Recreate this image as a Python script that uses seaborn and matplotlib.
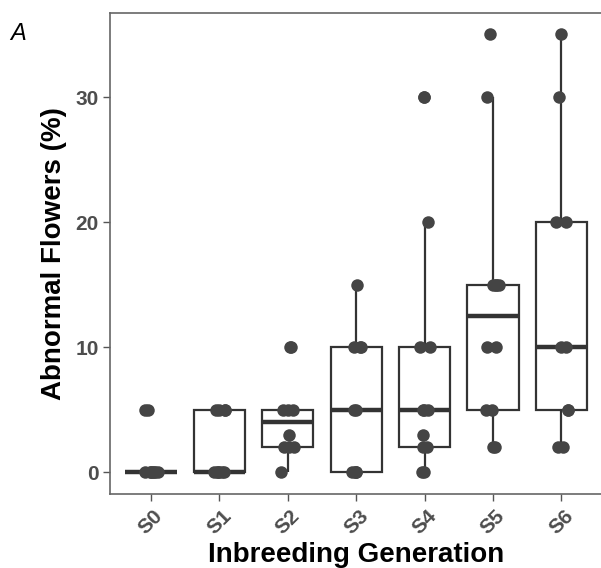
import numpy as np
import pandas as pd
import matplotlib
matplotlib.use("Agg")
import matplotlib.pyplot as plt
import matplotlib.transforms as mtransforms
import seaborn as sns

# Percentage of abnormal flowers per plant, by inbreeding generation
generations = ["S0", "S1", "S2", "S3", "S4", "S5", "S6"]
s0 = [0, 0, 0, 0, 0, 0, 0, 5, 5]
s1 = [0, 0, 0, 0, 0, 0, 5, 5, 5, 5]
s2 = [0, 2, 2, 2, 3, 5, 5, 5, 10, 10]
s3 = [0, 0, 0, 0, 5, 5, 10, 10, 10, 15]
s4 = [0, 0, 2, 2, 3, 5, 5, 5, 10, 10, 20, 30, 30]
s5 = [2, 2, 5, 5, 10, 10, 15, 15, 15, 15, 30, 35]
s6 = [2, 2, 5, 5, 10, 10, 20, 20, 30, 35]
y_ticks = [0, 10, 20, 30]

groups = [s0, s1, s2, s3, s4, s5, s6]
df = pd.DataFrame({
    "gen": [g for g, vals in zip(generations, groups) for _ in vals],
    "pct": [v for vals in groups for v in vals],
})

sns.set_style("white")
plt.rcParams["font.family"] = ["Liberation Sans", "DejaVu Sans"]

fig = plt.figure(figsize=(6.01, 5.68), dpi=100)
ax_top, ax_bottom = 12.6, 494.0
ax = fig.add_axes([110 / 601, 1 - ax_bottom / 568, 492.5 / 601,
                   (ax_bottom - ax_top) / 568])

box_col = "#333333"
sns.boxplot(data=df, x="gen", y="pct", order=generations, ax=ax,
            color="white", linecolor=box_col, linewidth=1.6, width=0.75,
            showcaps=False, showfliers=False, whis=1.5,
            medianprops=dict(linewidth=3.2, color=box_col),
            boxprops=dict(facecolor="white", edgecolor=box_col),
            whiskerprops=dict(color=box_col), zorder=2)

np.random.seed(7)
sns.stripplot(data=df, x="gen", y="pct", order=generations, ax=ax,
              color="#444444", size=9, jitter=0.1, linewidth=0,
              zorder=3)

ax.set_xlim(-0.6, 6.6)
ax.set_ylim(-1.75, 36.75)
ax.set_yticks(y_ticks)
ax.set_yticklabels([str(t) for t in y_ticks])

tick_col = "#4D4D4D"
for lbl in ax.get_yticklabels():
    lbl.set_fontsize(15)
    lbl.set_fontweight("bold")
    lbl.set_color(tick_col)

shift = mtransforms.ScaledTranslation(-3 / 100, 0, fig.dpi_scale_trans)
for lbl in ax.get_xticklabels():
    lbl.set_fontsize(15)
    lbl.set_fontweight("bold")
    lbl.set_color(tick_col)
    lbl.set_rotation(45)
    lbl.set_ha("center")
    lbl.set_va("top")
    lbl.set_transform(lbl.get_transform() + shift)

ax.tick_params(axis="both", which="major", length=5, width=1,
               color="#555555", direction="out", bottom=True, left=True)
ax.tick_params(axis="x", pad=4)
ax.tick_params(axis="y", pad=3)
ax.set_xlabel("Inbreeding Generation", fontsize=20, fontweight="bold",
              color="black", labelpad=2.5)
ax.set_ylabel("Abnormal Flowers (%)", fontsize=20, fontweight="bold",
              color="black", labelpad=6)

for side in ["top", "bottom", "left", "right"]:
    ax.spines[side].set_visible(True)
    ax.spines[side].set_color("#666666")
    ax.spines[side].set_linewidth(1.2)

fig.text(10 / 601, 1 - 33 / 568, "A", fontsize=17, fontstyle="italic",
         color="black", ha="left", va="center")

fig.savefig("out.png", dpi=100)
